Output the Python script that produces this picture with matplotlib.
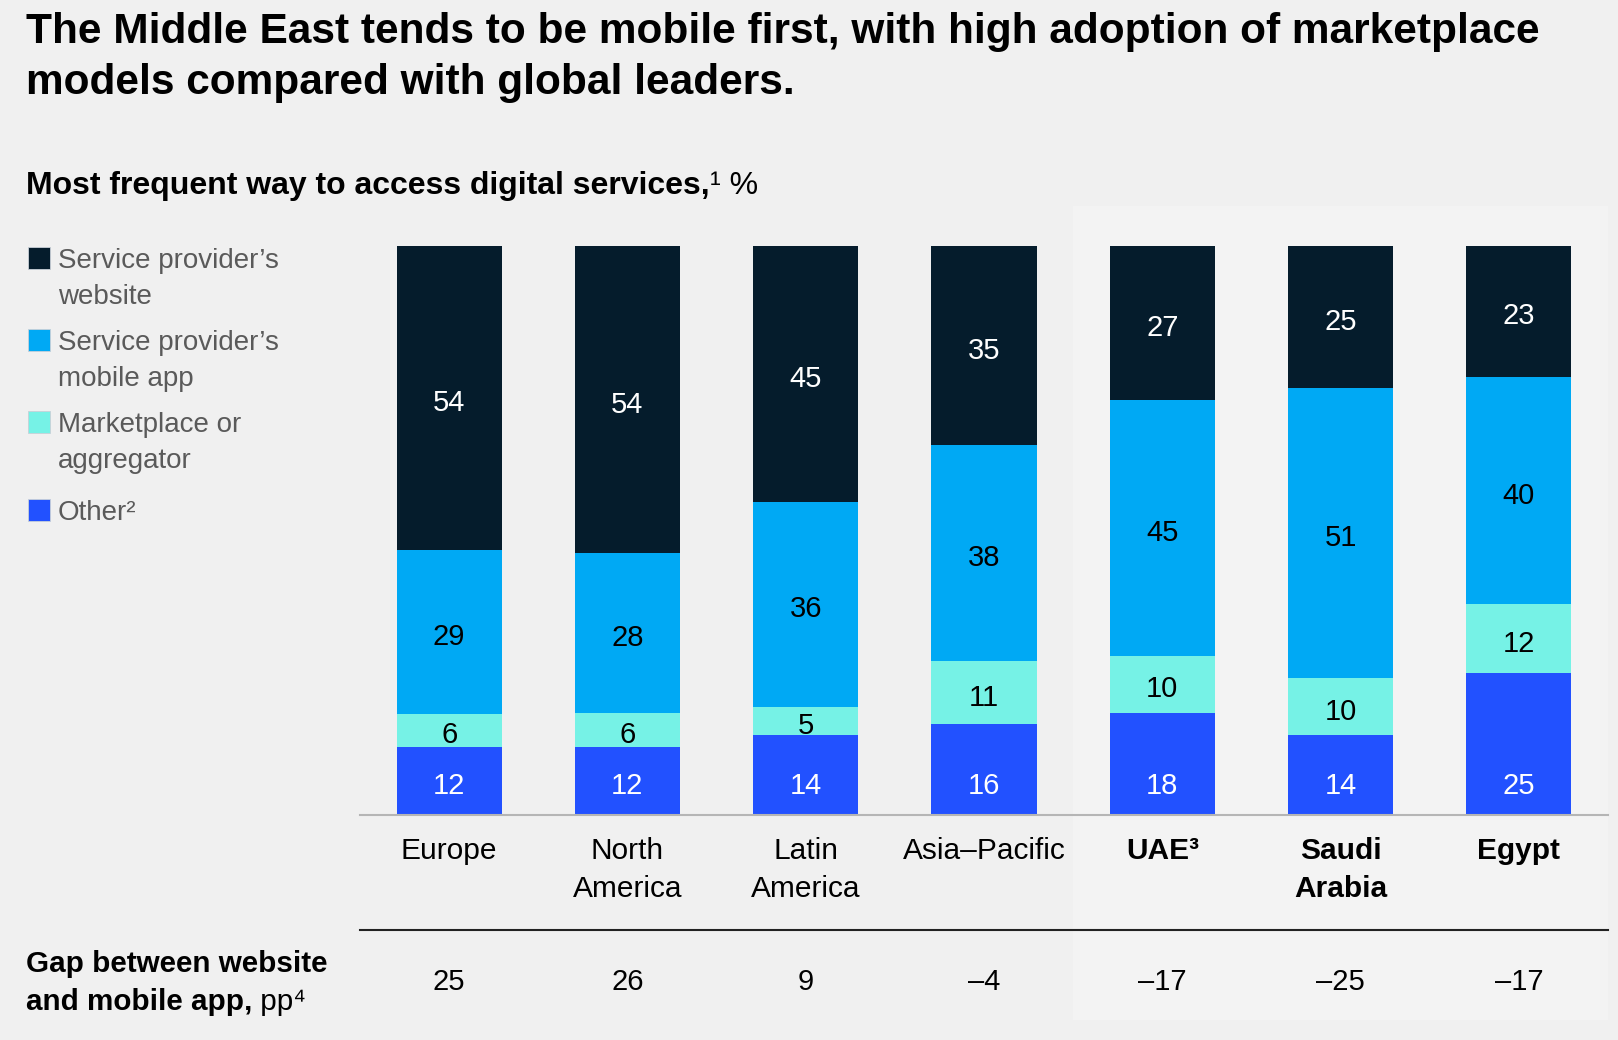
import numpy as np
import matplotlib
matplotlib.use("Agg")
import matplotlib.pyplot as plt
from matplotlib.patches import Rectangle
from matplotlib.lines import Line2D
from matplotlib.transforms import blended_transform_factory

plt.rcParams['font.family'] = ['Liberation Sans', 'DejaVu Sans']

# data
regions = ["Europe", "North\nAmerica", "Latin\nAmerica", "Asia\u2013Pacific",
           "UAE\u00b3", "Saudi\nArabia", "Egypt"]
bold_region = [False, False, False, False, True, True, True]
website = [54, 54, 45, 35, 27, 25, 23]
mobile_app = [29, 28, 36, 38, 45, 51, 40]
marketplace = [6, 6, 5, 11, 10, 10, 12]
other = [12, 12, 14, 16, 18, 14, 25]
gap_pp = [25, 26, 9, -4, -17, -25, -17]
legend_labels = ["Service provider\u2019s\nwebsite", "Service provider\u2019s\nmobile app",
                 "Marketplace or\naggregator", "Other\u00b2"]

c_web = '#051c2c'
c_app = '#00a9f4'
c_mkt = '#76f2e6'
c_oth = '#2251ff'
bg = '#f0f0f0'

W, H = 1618, 1040


def fx(px):
    return px / W


def fy(px):
    # small shift so va='center' text sits where the reference's does
    return 1 - px / H


fig = plt.figure(figsize=(W / 100, H / 100), dpi=100, facecolor=bg)

# lighter panel behind the Middle East countries
fig.patches.append(Rectangle((fx(1073), fy(1020)), fx(1608) - fx(1073), fy(206) - fy(1020),
                             transform=fig.transFigure, facecolor='#f3f3f3',
                             edgecolor='none', zorder=-1))

ax = fig.add_axes([fx(360), fy(815), fx(1608) - fx(360), fy(246) - fy(815)])
ax.set_facecolor('none')

x = np.arange(len(regions))
series = [other, marketplace, mobile_app, website]
colors = [c_oth, c_mkt, c_app, c_web]
txt_colors = ['white', 'black', 'black', 'white']
totals = np.sum(series, axis=0)

bottom = np.zeros(len(regions))
for vals, col, tcol in zip(series, colors, txt_colors):
    h = np.array(vals) / totals * 100
    ax.bar(x, h, bottom=bottom, width=0.59, color=col, edgecolor='none', zorder=2)
    for i in range(len(regions)):
        if vals is other:
            ty = 6
        else:
            ty = bottom[i] + h[i] / 2
        ax.annotate(str(vals[i]), (x[i], ty), xytext=(0, -5), textcoords='offset pixels',
                    ha='center', va='center', fontsize=21, color=tcol, zorder=3)
    bottom += h

ax.set_xlim(-0.5, 6.5)
ax.set_ylim(0, 100)
ax.axis('off')
ax.axhline(0, color='#b5b5b5', lw=1.5, zorder=4, clip_on=False)

tr = blended_transform_factory(ax.transData, fig.transFigure)
for i, name in enumerate(regions):
    for j, line in enumerate(name.split('\n')):
        ax.text(x[i], fy(851 + j * 38), line, transform=tr, ha='center', va='center',
                fontsize=21.5, color='black',
                fontweight='bold' if bold_region[i] else 'normal')
    g = gap_pp[i]
    gtxt = str(g) if g >= 0 else '\u2013' + str(-g)
    ax.text(x[i], fy(982), gtxt, transform=tr, ha='center', va='center',
            fontsize=21, color='black')

fig.lines.append(Line2D([fx(360), fx(1608)], [fy(930), fy(930)], transform=fig.transFigure,
                        color='#222222', lw=1.5))

# titles
fig.text(fx(26), fy(32), "The Middle East tends to be mobile first, with high adoption of marketplace",
         fontsize=30.5, fontweight='bold', va='center', ha='left')
fig.text(fx(26), fy(83), "models compared with global leaders.",
         fontsize=30.5, fontweight='bold', va='center', ha='left')

renderer = fig.canvas.get_renderer()


def two_part(xpx, ypx, bold_part, reg_part, size, color='black'):
    t = fig.text(fx(xpx), fy(ypx), bold_part, fontsize=size, fontweight='bold',
                 va='center', ha='left', color=color)
    bb = t.get_window_extent(renderer=renderer)
    fig.text(bb.x1 / W, fy(ypx), reg_part, fontsize=size, va='center', ha='left', color=color)


two_part(26, 186, "Most frequent way to access digital services,", "\u00b9 %", 23)

fig.text(fx(26), fy(964), "Gap between website", fontsize=21.3, fontweight='bold',
         va='center', ha='left')
two_part(26, 1002, "and mobile app,", " pp\u2074", 21.3)

# legend
leg_y = [261, 343, 425, 513]
for lab, col, y0 in zip(legend_labels, colors[::-1], leg_y):
    fig.patches.append(Rectangle((fx(28), fy(y0 + 8)), fx(22), fx(22) * W / H,
                                 transform=fig.transFigure, facecolor=col,
                                 edgecolor='#c8d0d8', lw=0.6))
    for j, line in enumerate(lab.split('\n')):
        fig.text(fx(58), fy(y0 + j * 36), line, fontsize=20, color='#5a5a5a',
                 va='center', ha='left')

fig.savefig('out.png', dpi=100, facecolor=bg)
